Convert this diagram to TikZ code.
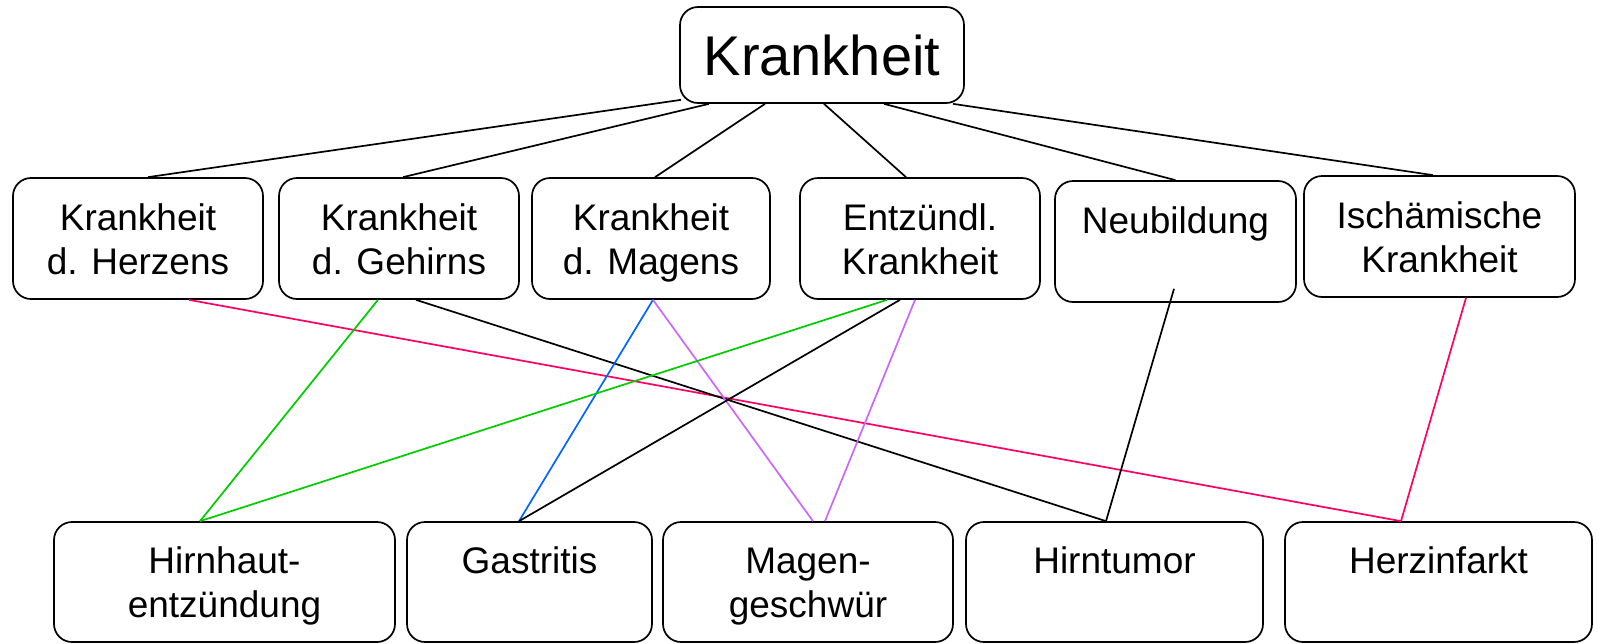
\documentclass[tikz,border=0pt]{standalone}
\usepackage{fontspec}
\setmainfont{Liberation Sans}
\usetikzlibrary{positioning}

\definecolor{linkgreen}{HTML}{00CC00}
\definecolor{linkblue}{HTML}{0066FF}
\definecolor{linkviolet}{HTML}{CC66FF}
\definecolor{linkred}{HTML}{FF0066}

\begin{document}
\begin{tikzpicture}[
	x=1pt, y=-1pt,
	topbox/.style={draw, line width=1.7pt, rounded corners=18pt, inner sep=0pt,
		minimum width=284pt, minimum height=96pt, font=\fontsize{56}{67}\selectfont},
	box/.style={draw, line width=1.7pt, rounded corners=18pt, inner sep=0pt, align=center,
		minimum width=#1, minimum height=121pt, text height=71pt, text depth=0pt,
		font=\fontsize{37}{44}\selectfont},
	oneline/.style={text height=27pt, text depth=44pt},
	link/.style={line width=1.7pt, draw=#1},
	link/.default=black
]

\useasboundingbox (0,0) rectangle (1598,643);

\node[topbox] (krankheit) at (822,55) {Krankheit};

\node[box=250pt] (herz) at (138,238.5) {Krankheit\\d. Herzens};
\node[box=240pt] (gehirn) at (399,238.5) {Krankheit\\d. Gehirns};
\node[box=238pt] (magen) at (651,238.5) {Krankheit\\d. Magens};
\node[box=240pt] (entz) at (920,238.5) {Entzündl.\\Krankheit};
\node[box=241pt, oneline] (neu) at (1175.5,241.5) {Neubildung};
\node[box=271pt] (isch) at (1439.5,236.5) {Ischämische\\Krankheit};

\node[box=341pt, minimum height=120pt] (hirnhaut) at (224.5,582) {Hirnhaut-\\entzündung};
\node[box=245pt, minimum height=120pt, oneline] (gastritis) at (529.5,582) {Gastritis};
\node[box=290pt, minimum height=120pt] (geschwuer) at (808,582) {Magen-\\geschwür};
\node[box=297pt, minimum height=120pt, oneline] (tumor) at (1114.5,582) {Hirntumor};
\node[box=307pt, minimum height=120pt, oneline] (infarkt) at (1438.5,582) {Herzinfarkt};

\foreach \s/\t/\a/\b in {herz/-141/4/10, gehirn/-113/0/4, magen/-57/0/4,
		entz/2/0/-14, neu/62/0/0, isch/131/0/-6.5} {
	\draw[link] ([xshift=\t pt, yshift=\a pt]krankheit.south) -- ([xshift=\b pt]\s.north);
}

\draw[link=linkred] ([xshift=51pt]herz.south) -- ([xshift=-37.5pt]infarkt.north);
\draw[link=linkgreen] ([xshift=-21pt]gehirn.south) -- ([xshift=-24.5pt]hirnhaut.north);
\draw[link] ([xshift=17pt]gehirn.south) -- ([xshift=-8.5pt]tumor.north);
\draw[link=linkblue] ([xshift=2pt]magen.south) -- ([xshift=-10.5pt]gastritis.north);
\draw[link=linkviolet] ([xshift=2pt]magen.south) -- ([xshift=5pt]geschwuer.north);
\draw[link=linkgreen] ([xshift=-33pt]entz.south) -- ([xshift=-24.5pt]hirnhaut.north);
\draw[link] ([xshift=-20pt]entz.south) -- ([xshift=-10.5pt]gastritis.north);
\draw[link=linkviolet] ([xshift=-5pt]entz.south) -- ([xshift=17pt]geschwuer.north);
\draw[link] ([xshift=-1.5pt, yshift=14pt]neu.south) -- ([xshift=-8.5pt]tumor.north);
\draw[link=linkred] ([xshift=26.5pt]isch.south) -- ([xshift=-37.5pt]infarkt.north);

\end{tikzpicture}
\end{document}
